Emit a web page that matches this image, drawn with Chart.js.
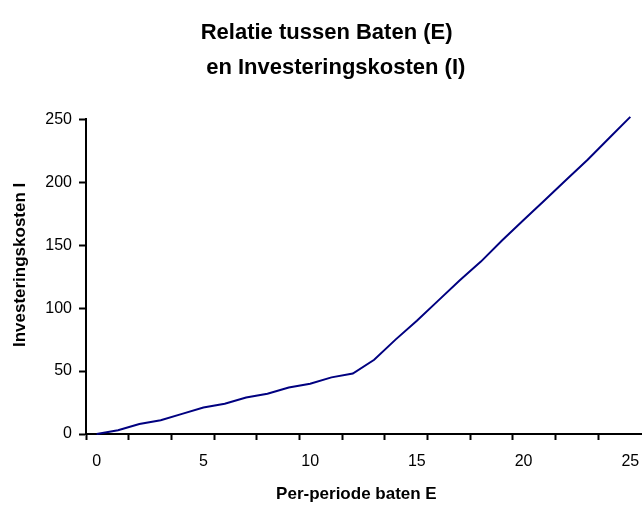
<!DOCTYPE html>
<html>
<head>
<meta charset="utf-8">
<title>Relatie tussen Baten en Investeringskosten</title>
<script src="https://cdn.jsdelivr.net/npm/chart.js@4.4.1/dist/chart.umd.min.js"></script>
<style>
  html, body { margin: 0; padding: 0; background: #fff; }
  #wrap { width: 644px; height: 505px; }
</style>
</head>
<body>
<div id="wrap"><canvas id="kostenChart" width="644" height="505"></canvas></div>
<script>
// per-periode baten E (categories on the x axis)
const baten = ['0', '1', '2', '3', '4', '5', '6', '7', '8', '9', '10', '11', '12',
  '13', '14', '15', '16', '17', '18', '19', '20', '21', '22', '23', '24', '25'];
// investeringskosten I
const kosten = [0, 3, 8, 11, 16, 21, 24, 29, 32, 37, 40, 45, 48,
  59, 75, 90, 106, 122, 137, 154, 170, 186, 202, 218, 235, 252];
// which categories get a label on the x axis
const xLabels = ['0', '5', '10', '15', '20', '25'];
const yTicks = [0, 50, 100, 150, 200, 250];

const fontFamily = '"Liberation Sans", Arial, sans-serif';

const ctx = document.getElementById('kostenChart').getContext('2d');
new Chart(ctx, {
  type: 'line',
  data: {
    labels: baten,
    datasets: [
      {
        label: 'Investeringskosten I',
        data: kosten,
        borderColor: '#000080',
        backgroundColor: '#000080',
        borderWidth: 2,
        pointRadius: 0,
        tension: 0,
        fill: false,
        clip: false,
      },
    ],
  },
  options: {
    responsive: false,
    animation: false,
    layout: { padding: { left: 0, right: 3, top: 0, bottom: 0 } },
    plugins: {
      legend: { display: false },
      tooltip: { enabled: false },
      title: {
        display: true,
        // extra spaces shift the two lines like in the original
        text: ['  Relatie tussen Baten (E)', '     en Investeringskosten (I)'],
        color: '#000',
        font: { family: fontFamily, size: 22, weight: 'bold', lineHeight: 1.6 },
        padding: { top: 15, bottom: 34 },
      },
    },
    scales: {
      x: {
        type: 'category',
        offset: true,
        grid: {
          offset: true,
          drawOnChartArea: false,
          drawTicks: true,
          tickLength: 6,
          tickWidth: 2,
          // tick mark every second category boundary
          tickColor: (c) => (c.index % 2 === 0 ? '#000' : 'rgba(0,0,0,0)'),
        },
        border: { display: true, color: '#000', width: 2 },
        ticks: {
          autoSkip: false,
          maxRotation: 0,
          color: '#000',
          padding: 12,
          font: { family: fontFamily, size: 16 },
          callback: function (value) {
            const lab = this.getLabelForValue(value);
            return xLabels.includes(lab) ? lab : '';
          },
        },
        title: {
          display: true,
          text: 'Per-periode baten E   ',
          color: '#000',
          font: { family: fontFamily, size: 17, weight: 'bold' },
          padding: { top: 4, bottom: 0 },
        },
        afterFit: (scale) => {
          scale.height = 71;
          // labels sit inside the categories, no extra side room needed
          scale.paddingLeft = 0;
          scale.paddingRight = 0;
        },
      },
      y: {
        min: 0,
        max: 250,
        afterBuildTicks: (scale) => {
          scale.ticks = yTicks.map((v) => ({ value: v }));
        },
        grid: {
          drawOnChartArea: false,
          drawTicks: true,
          tickLength: 7,
          tickWidth: 2,
          tickColor: '#000',
        },
        border: { display: true, color: '#000', width: 2 },
        ticks: {
          color: '#000',
          padding: 7,
          font: { family: fontFamily, size: 16 },
        },
        title: {
          display: true,
          text: '     Investeringskosten I',
          color: '#000',
          font: { family: fontFamily, size: 17, weight: 'bold' },
          padding: { top: 10, bottom: 0 },
        },
        afterFit: (scale) => { scale.width = 86; },
      },
    },
  },
});
</script>
</body>
</html>
